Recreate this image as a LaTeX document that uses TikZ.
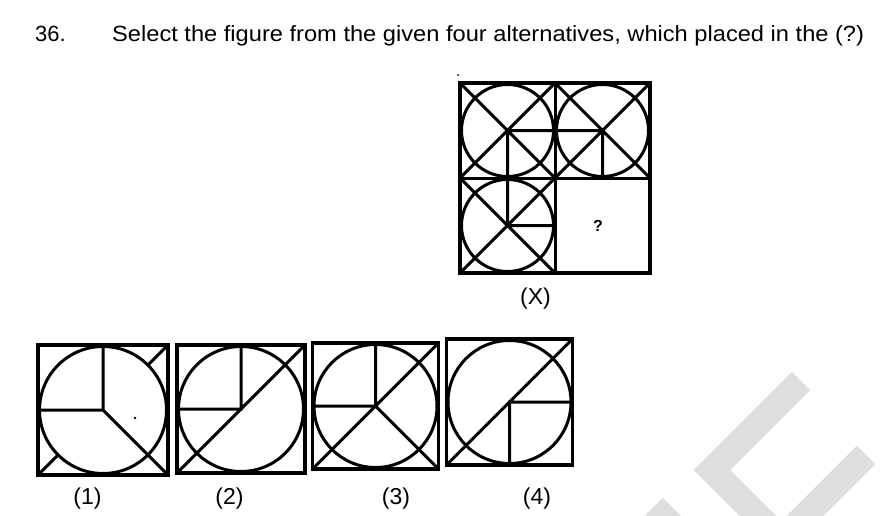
\documentclass[tikz,border=0pt]{standalone}
\usepackage{fontspec}
\setmainfont{Liberation Sans}
\usetikzlibrary{calc}
\tikzset{
  wm/.style={line width=26pt, draw=black!13, line cap=butt, line join=miter},
  fig/.style={line width=3pt, line cap=round},
  frame/.style={line width=3.6pt, line join=miter},
  lab/.style={font=\fontsize{23}{23}\selectfont, anchor=base, inner sep=0pt},
  ttl/.style={font=\fontsize{22}{22}\selectfont, anchor=base west, inner sep=0pt},
  speck/.style={fill=black}
}
% prefix, cx, cy, half
\newcommand\mkcell[4]{%
  \coordinate (#1c) at (#2,#3);
  \coordinate (#1tl) at ($(#1c)+(-#4,-#4)$);
  \coordinate (#1tr) at ($(#1c)+(#4,-#4)$);
  \coordinate (#1bl) at ($(#1c)+(-#4,#4)$);
  \coordinate (#1br) at ($(#1c)+(#4,#4)$);
  \coordinate (#1t) at ($(#1c)+(0,-#4)$);
  \coordinate (#1b) at ($(#1c)+(0,#4)$);
  \coordinate (#1l) at ($(#1c)+(-#4,0)$);
  \coordinate (#1r) at ($(#1c)+(#4,0)$);
  \coordinate (#1ctr) at ($(#1c)!0.7071!(#1tr)$);
  \coordinate (#1cbl) at ($(#1c)!0.7071!(#1bl)$);
  \draw[fig] (#1c) circle[radius=#4-1.5];
}
\begin{document}
\begin{tikzpicture}[x=1pt,y=-1pt]
\useasboundingbox (0,0) rectangle (888,516);
% watermark
\begin{scope}
\clip (0,0) rectangle (888,516);
\draw[wm] (801,381) -- (712,470) -- (790,548);
\draw[wm] (866,455) -- (770,551);
\draw[wm] (672,507) -- (640,539);
\end{scope}
% title
\node[ttl] (num) at (35,42) {36.};
\node[ttl] (title) at (112,42) {\scalebox{1.075}[1]{Select the figure from the given four alternatives, which placed in the (?)}};
% figure X
\mkcell{A}{507.5}{130.5}{47.5}
\mkcell{B}{602.5}{130.5}{47.5}
\mkcell{C}{507.5}{225.5}{47.5}
\draw[fig] (Atl) -- (Abr) (Atr) -- (Abl) (Ar) -- (Ac) -- (Ab);
\draw[fig] (Btl) -- (Bbr) (Btr) -- (Bbl) (Bl) -- (Bc) -- (Bb);
\draw[fig] (Ctl) -- (Cbr) (Ctr) -- (Cbl) (Ct) -- (Cc) -- (Cr);
\draw[fig] (Atr) -- (Cbr) (Abl) -- (Bbr);
\draw[frame] (Atl) rectangle (650,273);
\node[font=\bfseries\fontsize{16}{16}\selectfont] (q) at (598,226) {?};
\fill[speck] (458,75) circle[radius=1];
\node[lab] (lx) at (535.5,304) {(X)};
% option 1
\mkcell{P}{103}{410}{65}
\draw[frame] (Ptl) rectangle (Pbr);
\draw[fig] (Pt) -- (Pc) -- (Pl) (Pc) -- (Pbr) (Ptr) -- (Pctr) (Pbl) -- (Pcbl);
\fill[speck] (135,418) circle[radius=1.4];
\node[lab] (l1) at (87.5,504) {(1)};
% option 2
\mkcell{Q}{241}{409}{64}
\draw[frame] (Qtl) rectangle (Qbr);
\draw[fig] (Qt) -- (Qc) -- (Ql) (Qbl) -- (Qtr);
\node[lab] (l2) at (229.5,504) {(2)};
% option 3
\mkcell{R}{375.5}{406}{63}
\draw[frame] (Rtl) rectangle (Rbr);
\draw[fig] (Rt) -- (Rc) -- (Rl) (Rbl) -- (Rtr) (Rc) -- (Rbr);
\node[lab] (l3) at (396,504) {(3)};
% option 4
\mkcell{S}{509.5}{402}{63}
\draw[frame] (Stl) rectangle (Sbr);
\draw[fig] (Sr) -- (Sc) -- (Sb) (Sbl) -- (Str);
\node[lab] (l4) at (537,504) {(4)};
\end{tikzpicture}
\end{document}
